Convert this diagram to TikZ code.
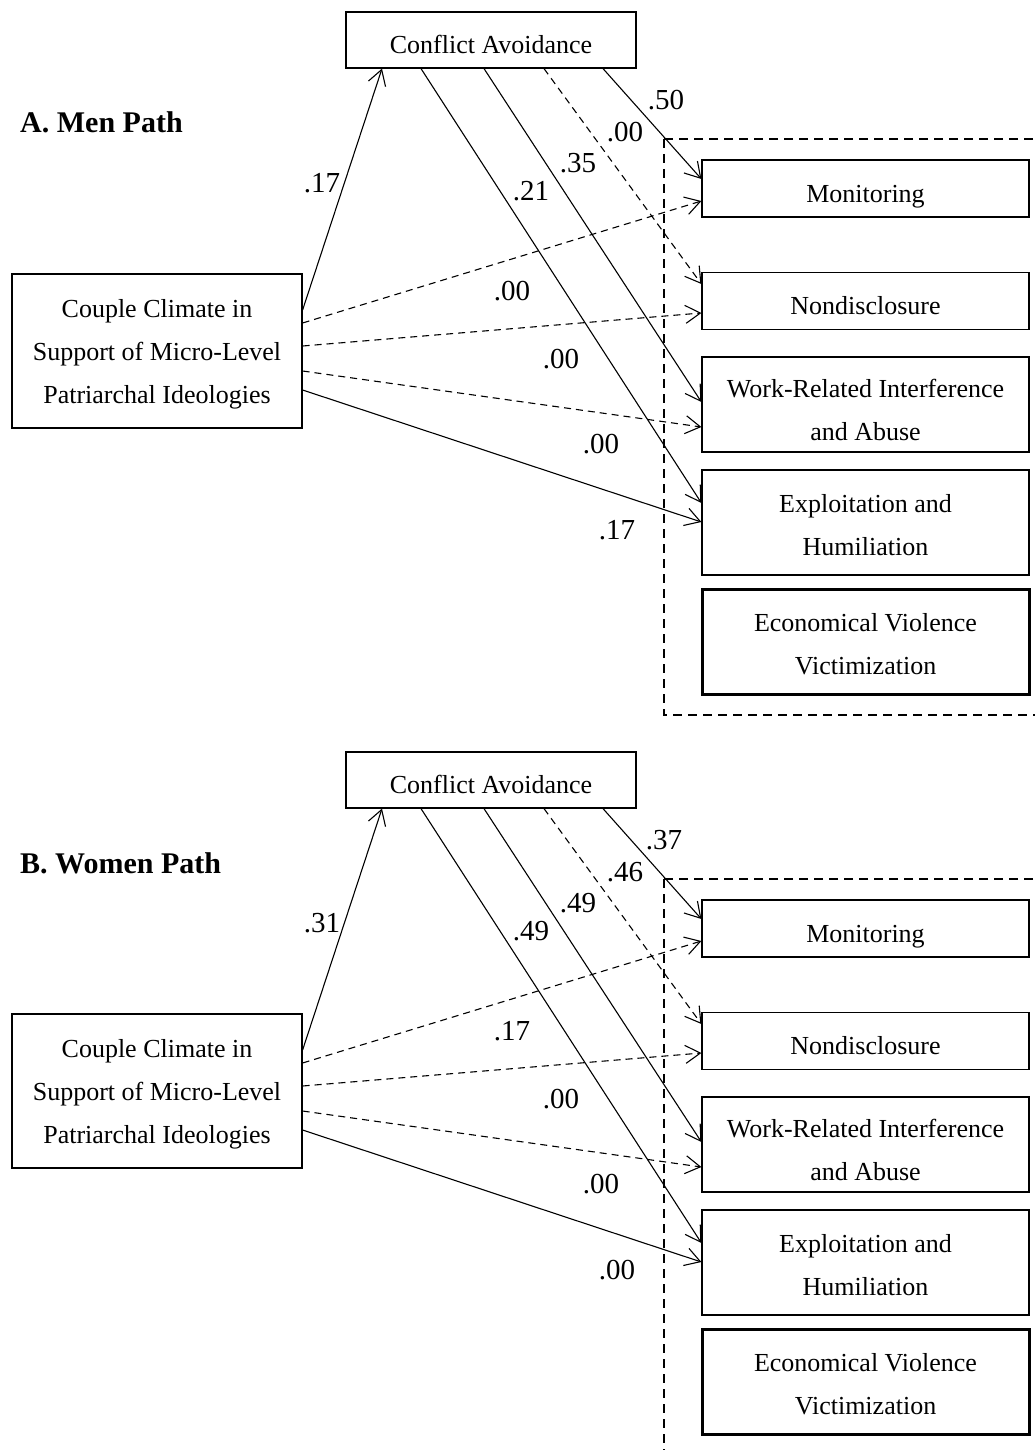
\documentclass[tikz,border=0pt]{standalone}
\usepackage{fontspec}
\setmainfont{Liberation Serif}
\usetikzlibrary{arrows.meta,calc}
\newcommand\upstrut[1]{\rule{0pt}{#1}}
\tikzset{
  box/.style={draw, line width=1.2pt, inner sep=0pt, align=center,
    font=\fontsize{26}{43}\selectfont},
  one/.style={text height=27pt, text depth=0pt},
  thickbox/.style={box, line width=3pt},
  arr/.style={-{Straight Barb[length=15pt,width=18pt,line width=1.1pt]}, line width=1.1pt},
  darr/.style={arr, dash pattern=on 7pt off 5pt},
  dbox/.style={line width=2.4pt, dash pattern=on 9pt off 6pt},
  lab/.style={font=\fontsize{29}{29}\selectfont, inner sep=0pt},
  ttl/.style={font=\bfseries\fontsize{30}{30}\selectfont, anchor=base west, inner sep=0pt},
  wbox/.style={box, minimum width=327pt}
}
\begin{document}
\begin{tikzpicture}[x=1pt, y=-1pt]
\useasboundingbox (0,0) rectangle (1035,1450);
\fill[white] (0,0) rectangle (1035,1450);
\clip (0,0) rectangle (1035,1450);

% ---------- Panel A ----------
\node[ttl] (tA) at (20,133) {A. Men Path};
\node[box, one, minimum width=290pt, minimum height=56pt] (caA) at (491,40) {Conflict Avoidance};
\node[box, minimum width=290pt, minimum height=154pt] (ccA) at (157,351) {\upstrut{24pt}Couple Climate in\\Support of Micro-Level\\Patriarchal Ideologies};
\node[wbox, one, minimum height=57pt] (moA) at (865.5,188.5) {Monitoring};
\node[wbox, one, minimum height=57pt] (ndA) at (865.5,301) {Nondisclosure};
\node[wbox, minimum height=95pt] (wrA) at (865.5,404.5) {\upstrut{29pt}Work-Related Interference\\and Abuse};
\node[wbox, minimum height=105pt] (exA) at (865.5,522.5) {\upstrut{23pt}Exploitation and\\Humiliation};
\node[thickbox, minimum width=327pt, minimum height=105pt] (evA) at (865.5,641.5) {\upstrut{24pt}Economical Violence\\Victimization};
\draw[dbox] (664,139) rectangle (1060,715);

\draw[arr] ([yshift=41pt]ccA.east) -- ([xshift=-109pt]caA.south);
\draw[darr] ([yshift=28pt]ccA.east) -- ([yshift=-12.5pt]moA.west);
\draw[darr] ([yshift=5pt]ccA.east) -- ([yshift=-12pt]ndA.west);
\draw[darr] ([yshift=-20pt]ccA.east) -- ([yshift=-22.5pt]wrA.west);
\draw[arr] ([yshift=-39pt]ccA.east) -- ([yshift=0.5pt]exA.west);
\draw[arr] ([xshift=-70pt]caA.south) -- ([yshift=19.5pt]exA.west);
\draw[arr] ([xshift=-7pt]caA.south) -- ([yshift=2.5pt]wrA.west);
\draw[darr] ([xshift=53pt]caA.south) -- ([yshift=17pt]ndA.west);
\draw[arr] ([xshift=112pt]caA.south) -- ([yshift=9.5pt]moA.west);

\node[lab] (a1) at (322,183) {.17};
\node[lab] (a2) at (666,100) {.50};
\node[lab] (a3) at (625,132) {.00};
\node[lab] (a4) at (578,163) {.35};
\node[lab] (a5) at (531,191) {.21};
\node[lab] (a6) at (512,291) {.00};
\node[lab] (a7) at (561,359) {.00};
\node[lab] (a8) at (601,444) {.00};
\node[lab] (a9) at (617,530) {.17};

% ---------- Panel B ----------
\begin{scope}[yshift=-740pt]
\node[ttl] (tB) at (20,133) {B. Women Path};
\node[box, one, minimum width=290pt, minimum height=56pt] (caB) at (491,40) {Conflict Avoidance};
\node[box, minimum width=290pt, minimum height=154pt] (ccB) at (157,351) {\upstrut{24pt}Couple Climate in\\Support of Micro-Level\\Patriarchal Ideologies};
\node[wbox, one, minimum height=57pt] (moB) at (865.5,188.5) {Monitoring};
\node[wbox, one, minimum height=57pt] (ndB) at (865.5,301) {Nondisclosure};
\node[wbox, minimum height=95pt] (wrB) at (865.5,404.5) {\upstrut{29pt}Work-Related Interference\\and Abuse};
\node[wbox, minimum height=105pt] (exB) at (865.5,522.5) {\upstrut{23pt}Exploitation and\\Humiliation};
\node[thickbox, minimum width=327pt, minimum height=105pt] (evB) at (865.5,641.5) {\upstrut{24pt}Economical Violence\\Victimization};
\draw[dbox] (664,139) rectangle (1060,820);

\draw[arr] ([yshift=41pt]ccB.east) -- ([xshift=-109pt]caB.south);
\draw[darr] ([yshift=28pt]ccB.east) -- ([yshift=-12.5pt]moB.west);
\draw[darr] ([yshift=5pt]ccB.east) -- ([yshift=-12pt]ndB.west);
\draw[darr] ([yshift=-20pt]ccB.east) -- ([yshift=-22.5pt]wrB.west);
\draw[arr] ([yshift=-39pt]ccB.east) -- ([yshift=0.5pt]exB.west);
\draw[arr] ([xshift=-70pt]caB.south) -- ([yshift=19.5pt]exB.west);
\draw[arr] ([xshift=-7pt]caB.south) -- ([yshift=2.5pt]wrB.west);
\draw[darr] ([xshift=53pt]caB.south) -- ([yshift=17pt]ndB.west);
\draw[arr] ([xshift=112pt]caB.south) -- ([yshift=9.5pt]moB.west);

\node[lab] (b1) at (322,183) {.31};
\node[lab] (b2) at (664,100) {.37};
\node[lab] (b3) at (625,132) {.46};
\node[lab] (b4) at (578,163) {.49};
\node[lab] (b5) at (531,191) {.49};
\node[lab] (b6) at (512,291) {.17};
\node[lab] (b7) at (561,359) {.00};
\node[lab] (b8) at (601,444) {.00};
\node[lab] (b9) at (617,530) {.00};
\end{scope}
\end{tikzpicture}
\end{document}
